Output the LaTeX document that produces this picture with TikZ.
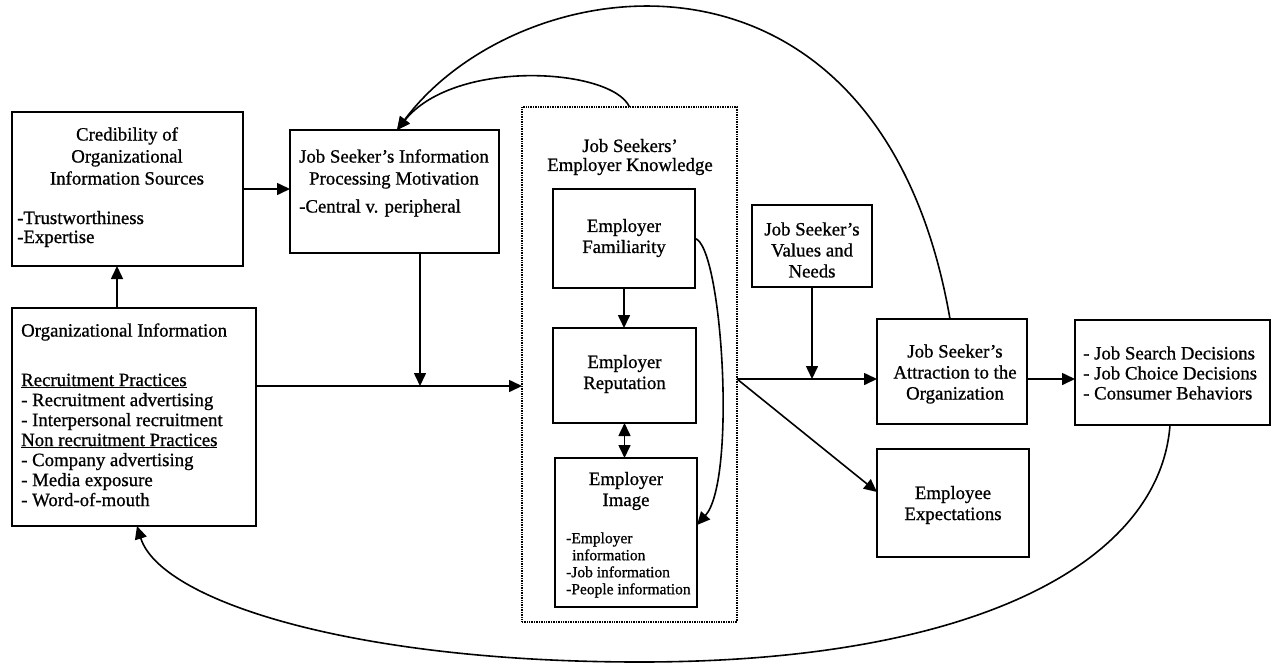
\documentclass[tikz,border=0pt]{standalone}
\usepackage{fontspec}
\setmainfont{Liberation Serif}[FakeBold=0.8]
\usetikzlibrary{arrows.meta}
\begin{document}
\begin{tikzpicture}[x=1pt,y=-1pt,
 box/.style={draw, line width=1.7pt, inner sep=0pt, outer sep=0pt},
 dotbox/.style={draw, line width=1.3pt, dash pattern=on 0.8pt off 0.9pt, inner sep=0pt, outer sep=0pt},
 arr/.style={line width=1.6pt, -{Triangle[length=13pt,width=12pt]}},
 darr/.style={line width=1.6pt, {Triangle[length=13pt,width=12pt]}-{Triangle[length=13pt,width=12pt]}},
 txt/.style={inner sep=0pt, font=\fontsize{18.8}{21}\selectfont, align=center},
 lst/.style={inner sep=0pt, font=\fontsize{18.8}{20}\selectfont, align=left, anchor=west},
 small/.style={inner sep=0pt, font=\fontsize{15.5}{17}\selectfont, align=left, anchor=west}]
\useasboundingbox[fill=white] (0,0) rectangle (1273,664);

% boxes
\node[dotbox, minimum width=215pt, minimum height=515pt] (know) at (629.5,364.5) {};
\node[box, minimum width=231pt, minimum height=154pt] (cred) at (127.5,189) {};
\node[box, minimum width=244pt, minimum height=218pt] (org) at (134,417) {};
\node[box, minimum width=209pt, minimum height=123pt] (ipm) at (394.5,191.5) {};
\node[box, minimum width=142pt, minimum height=99pt] (fam) at (624,238.5) {};
\node[box, minimum width=143pt, minimum height=95pt] (rep) at (624.5,375.5) {};
\node[box, minimum width=142pt, minimum height=149pt] (img) at (626,532.5) {};
\node[box, minimum width=120pt, minimum height=82pt] (val) at (812,246) {};
\node[box, minimum width=150pt, minimum height=105pt] (attr) at (952,371.5) {};
\node[box, minimum width=152pt, minimum height=108pt] (exp) at (953,503) {};
\node[box, minimum width=195pt, minimum height=105pt] (out) at (1172.5,372.5) {};

% texts
\node[txt, font=\fontsize{18.8}{22}\selectfont] (credT) at (127,156) {Credibility of\\Organizational\\Information Sources};
\node[lst, font=\fontsize{18.8}{19}\selectfont] (credL) at (17,229) {-Trustworthiness\\-Expertise};
\node[lst] (orgT) at (21,332) {Organizational Information};
\node[lst] (orgL) at (21,440) {\underline{Recruitment Practices}\\- Recruitment advertising\\- Interpersonal recruitment\\\underline{Non recruitment Practices}\\- Company advertising\\- Media exposure\\- Word-of-mouth};
\node[txt, font=\fontsize{18.8}{22}\selectfont] (ipmT) at (394,169) {Job Seeker’s Information\\Processing Motivation};
\node[lst] (ipmL) at (299,208) {-Central v. peripheral};
\node[txt, font=\fontsize{18.8}{19}\selectfont] (knowT) at (630,157) {Job Seekers’\\Employer Knowledge};
\node[txt] (famT) at (624,238) {Employer\\Familiarity};
\node[txt] (repT) at (624.5,374) {Employer\\Reputation};
\node[txt] (imgT) at (626,491) {Employer\\Image};
\node[small] (imgL) at (566,565) {-Employer\\\hspace*{6pt}information\\-Job information\\-People information};
\node[txt] (valT) at (812,250) {Job Seeker’s\\Values and\\Needs};
\node[txt] (attrT) at (955,374) {Job Seeker’s\\Attraction to the\\Organization};
\node[txt] (expT) at (953,505) {Employee\\Expectations};
\node[lst] (outL) at (1083,373) {- Job Search Decisions\\- Job Choice Decisions\\- Consumer Behaviors};

% junction coordinates
\coordinate (jA) at (420,386);
\coordinate (jB) at (812,379);
\coordinate (jC) at (737,379);

% connectors
\draw[arr] (117,0 |- org.north) -- (117,0 |- cred.south);
\draw[arr] (cred.east) -- (cred.east -| ipm.west);
\draw[arr] (org.east |- jA) -- (know.west |- jA);
\draw[arr] (jA |- ipm.south) -- (jA);
\draw[arr] (know.north) .. controls (612,68) and (455,58) .. (397,0 |- ipm.north);
\draw[arr] (950,0 |- attr.north) .. controls (880,-85) and (520,-35) .. (397,0 |- ipm.north);
\draw[arr] (fam.east) .. controls (722,245) and (737,480) .. (img.east |- 0,525);
\draw[arr] (fam.south) -- (fam.south |- rep.north);
\draw[darr] (rep.south) -- (rep.south |- img.north);
\draw[arr] (jC) -- (attr.west |- jC);
\draw[arr] (val.south) -- (jB);
\draw[arr] (jC) -- (exp.west |- 0,492);
\draw[arr] (attr.east |- jC) -- (out.west |- jC);
\draw[arr] (1170,0 |- out.south) .. controls (1160,560) and (980,662) .. (640,662)
  .. controls (350,662) and (160,600) .. (137,0 |- org.south);
\end{tikzpicture}
\end{document}
